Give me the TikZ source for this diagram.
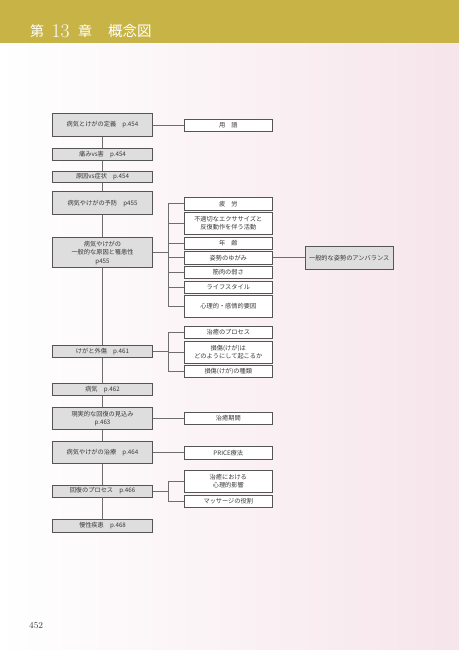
\documentclass[tikz,border=0pt]{standalone}
\usepackage{fontspec}
\newfontfamily\jp{Noto Sans CJK JP}
\usetikzlibrary{calc}
\definecolor{gold}{RGB}{200,180,70}
\definecolor{bgpink}{RGB}{246,229,235}
\definecolor{linegray}{RGB}{85,85,85}
\definecolor{conngray}{RGB}{110,110,110}
\definecolor{boxgray}{RGB}{222,222,222}
\definecolor{textgray}{RGB}{55,55,55}
\begin{document}
\begin{tikzpicture}[x=1pt,y=-1pt,
  mainbox/.style={draw=linegray, fill=boxgray, line width=0.8pt, minimum width=99.5pt,
    inner sep=0pt, align=center, text=textgray, font=\jp\fontsize{6.2}{8.4}\selectfont},
  subbox/.style={draw=linegray, fill=white, line width=0.8pt, minimum width=88pt,
    inner sep=0pt, align=center, text=textgray, font=\jp\fontsize{6.2}{8.4}\selectfont},
  conn/.style={draw=conngray, line width=0.8pt},
  titletext/.style={anchor=base west, inner sep=0pt, text=white}]
\path[use as bounding box] (0,0) rectangle (459,650);
\shade[left color=white, right color=bgpink] (0,0) rectangle (459,650);
\fill[gold] (0,0) rectangle (459,43.3);
% title
\node[titletext, font=\jp\fontsize{14}{14}\selectfont] (t1) at (30,36.6) {第};
\node[titletext, font=\fontsize{19.5}{19.5}\selectfont] (t2) at (51.5,37.7) {13};
\node[titletext, font=\jp\fontsize{14}{14}\selectfont] (t3) at (78,36.6) {章};
\node[titletext, font=\jp\fontsize{14.5}{14.5}\selectfont] (t4) at (108,36.6) {概念図};
% main column
\node[mainbox, minimum height=23.4pt] (b1) at (102.5,125) {病気とけがの定義　p.454};
\node[mainbox, minimum height=12pt] (b2) at (102.5,154.7) {痛みvs害　p.454};
\node[mainbox, minimum height=11.7pt] (b3) at (102.5,176.8) {原因vs症状　p.454};
\node[mainbox, minimum height=23pt] (b4) at (102.5,203.2) {病気やけがの予防　p455};
\node[mainbox, minimum height=30pt] (b5) at (102.5,252.7) {病気やけがの\\一般的な原因と罹患性\\p455};
\node[mainbox, minimum height=12pt] (b6) at (102.5,351.7) {けがと外傷　p.461};
\node[mainbox, minimum height=12pt] (b7) at (102.5,389.3) {病気　p.462};
\node[mainbox, minimum height=22pt] (b8) at (102.5,418.3) {現実的な回復の見込み\\p.463};
\node[mainbox, minimum height=22.3pt] (b9) at (102.5,452.2) {病気やけがの治療　p.464};
\node[mainbox, minimum height=12pt] (b10) at (102.5,491) {回復のプロセス　p.466};
\node[mainbox, minimum height=12.7pt] (b11) at (102.5,525.7) {慢性疾患　p.468};
% spine
\foreach \a/\b in {b1/b2,b2/b3,b3/b4,b4/b5,b5/b6,b6/b7,b7/b8,b8/b9,b9/b10,b10/b11}
  \draw[conn] (\a.south) -- (\b.north);
% right column
\node[subbox, minimum height=12.3pt] (r0) at (228.3,125.2) {用　語};
\node[subbox, minimum height=12.3pt] (r1) at (228.3,203.8) {疲　労};
\node[subbox, minimum height=22pt] (r2) at (228.3,223.3) {不適切なエクササイズと\\反復動作を伴う活動};
\node[subbox, minimum height=12pt] (r3) at (228.3,243.3) {年　齢};
\node[subbox, minimum height=12.3pt] (r4) at (228.3,257.8) {姿勢のゆがみ};
\node[subbox, minimum height=12.3pt] (r5) at (228.3,272.5) {筋肉の弱さ};
\node[subbox, minimum height=12.3pt] (r6) at (228.3,287.5) {ライフスタイル};
\node[subbox, minimum height=21.6pt] (r7) at (228.3,306.5) {心理的・感情的要因};
\node[mainbox, minimum width=88.3pt, minimum height=22.3pt] (s1) at (349.2,257.8) {一般的な姿勢のアンバランス};
\node[subbox, minimum height=11.6pt] (r8) at (228.3,332.5) {治癒のプロセス};
\node[subbox, minimum height=22.3pt] (r9) at (228.3,352.2) {損傷(けが)は\\どのようにして起こるか};
\node[subbox, minimum height=12pt] (r10) at (228.3,371.7) {損傷(けが)の種類};
\node[subbox, minimum height=12.4pt] (r11) at (228.3,418.5) {治癒期間};
\node[subbox, minimum height=12.3pt] (r12) at (228.3,452.8) {PRICE療法};
\node[subbox, minimum height=22.3pt] (r13) at (228.3,481.2) {治癒における\\心理的影響};
\node[subbox, minimum height=12.3pt] (r14) at (228.3,501.2) {マッサージの役割};
\coordinate (bx) at (168.7,0);
% single links
\draw[conn] (b1.east) -- (b1.east -| r0.west);
\draw[conn] (b8.east) -- (b8.east -| r11.west);
\draw[conn] (b9.east) -- (b9.east -| r12.west);
\draw[conn] (r4.east) -- (s1.west);
% bracket group b5
\draw[conn] (b5.east) -- (b5.east -| bx);
\draw[conn] (r1.west) -- (r1.west -| bx) -- (r7.west -| bx) -- (r7.west);
\foreach \r in {r2,r3,r4,r5,r6} \draw[conn] (\r.west) -- (\r.west -| bx);
% bracket group b6
\draw[conn] (b6.east) -- (b6.east -| bx);
\draw[conn] (r8.west) -- (r8.west -| bx) -- (r10.west -| bx) -- (r10.west);
\draw[conn] (r9.west) -- (r9.west -| bx);
% bracket group b10
\draw[conn] (b10.east) -- (b10.east -| bx);
\draw[conn] (r13.west) -- (r13.west -| bx) -- (r14.west -| bx) -- (r14.west);
% page number
\node[anchor=base west, inner sep=0pt, text=textgray, font=\fontsize{9}{9}\selectfont] (pg) at (29,628) {452};
\end{tikzpicture}
\end{document}
